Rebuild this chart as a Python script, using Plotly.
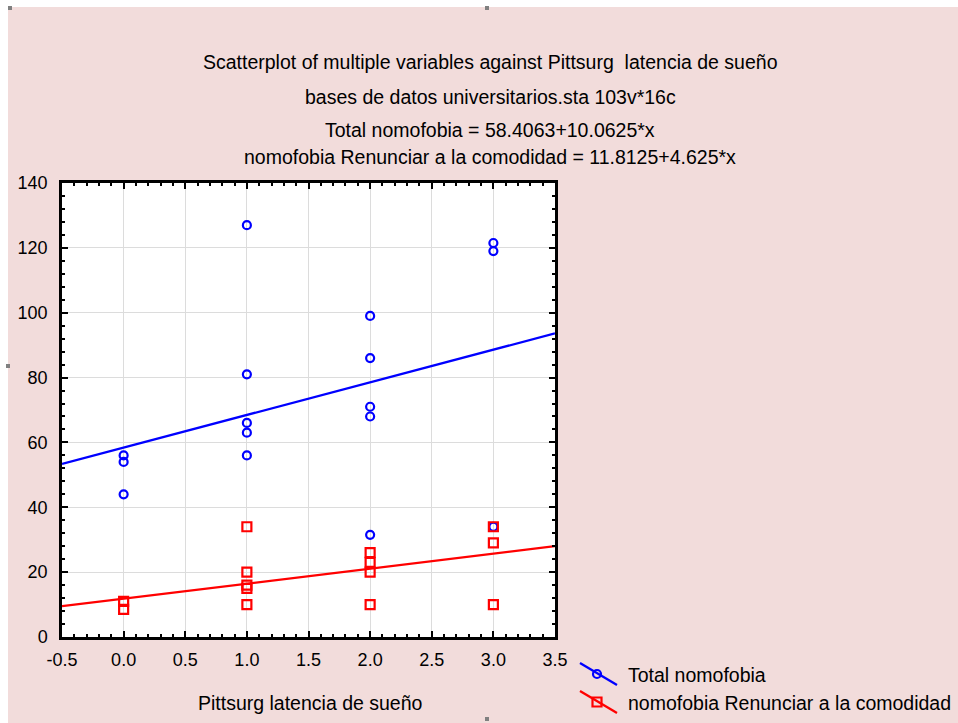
import plotly.graph_objects as go

# ---------------- data ----------------
total_x = [0, 0, 0, 1, 1, 1, 1, 1, 2, 2, 2, 2, 2, 3, 3, 3]
total_y = [56, 54, 44, 127, 81, 66, 63, 56, 99, 86, 71, 68, 31.5, 121.5, 119, 34]
renun_x = [0, 0, 1, 1, 1, 1, 1, 2, 2, 2, 2, 3, 3, 3]
renun_y = [11, 8.5, 34, 20, 16, 15, 10, 26, 23, 20, 10, 34, 29, 10]
series_names = ["Total nomofobia", "nomofobia Renunciar a la comodidad"]
fit_intercepts = [58.4063, 11.8125]
fit_slopes = [10.0625, 4.625]
fit_x_range = [-0.5, 3.5]
x_ticks = [-0.5, 0.0, 0.5, 1.0, 1.5, 2.0, 2.5, 3.0, 3.5]
y_ticks = [0, 20, 40, 60, 80, 100, 120, 140]
title_lines = [
    "Scatterplot of multiple variables against Pittsurg  latencia de sueño",
    "bases de datos universitarios.sta 103v*16c",
    "Total nomofobia = 58.4063+10.0625*x",
    "nomofobia Renunciar a la comodidad = 11.8125+4.625*x",
]
x_title = "Pittsurg latencia de sueño"

# ---------------- layout geometry (pixels) ----------------
W, H = 958, 723
L, R, T, B = 62, 555, 183, 637
BLUE, RED = "#0000FF", "#FF0000"
PINK = "#F2DCDB"
FONT = "Liberation Sans, Arial, sans-serif"
TXT = 19.5


def px(x):
    return (x - L) / (R - L)


def py(y):
    return (B - y) / (B - T)


fig = go.Figure()
colors = [BLUE, RED]
for i in range(2):
    xs = fit_x_range
    ys = [fit_intercepts[i] + fit_slopes[i] * v for v in xs]
    fig.add_trace(go.Scatter(x=xs, y=ys, mode="lines",
                             line=dict(color=colors[i], width=2.3),
                             showlegend=False, hoverinfo="skip"))

fig.add_trace(go.Scatter(x=total_x, y=total_y, mode="markers", name=series_names[0],
                         marker=dict(symbol="circle-open", size=8, color=BLUE,
                                     line=dict(width=2.2, color=BLUE)),
                         showlegend=False))
fig.add_trace(go.Scatter(x=renun_x, y=renun_y, mode="markers", name=series_names[1],
                         marker=dict(symbol="square-open", size=9, color=RED,
                                     line=dict(width=2.2, color=RED)),
                         showlegend=False))

axis_common = dict(
    showline=True, linecolor="black", linewidth=2.5, mirror="allticks",
    ticks="inside", ticklen=6, tickwidth=2, tickcolor="black",
    showgrid=True, gridcolor="#DCDCDC", gridwidth=1,
    zeroline=False, tickfont=dict(family=FONT, size=18, color="black"),
)

fig.update_xaxes(range=[-0.5, 3.5], tickmode="array", tickvals=x_ticks,
                 ticktext=[f"{v:.1f}" for v in x_ticks],
                 minor=dict(ticks="inside", ticklen=3, tickwidth=1.5, dtick=0.1,
                            tickcolor="black", showgrid=False),
                 ticklabelstandoff=5, **axis_common)
fig.update_yaxes(range=[0, 140], tickmode="array", tickvals=y_ticks,
                 minor=dict(ticks="inside", ticklen=3, tickwidth=1.5, dtick=4,
                            tickcolor="black", showgrid=False),
                 ticklabelstandoff=8, **axis_common)

annotations = []
title_y = [62, 97, 130, 157]
for txt, yy in zip(title_lines, title_y):
    annotations.append(dict(text=txt, x=px(490), y=py(yy), xref="paper", yref="paper",
                            showarrow=False, xanchor="center", yanchor="middle",
                            font=dict(family=FONT, size=TXT, color="black")))
annotations.append(dict(text=x_title, x=px(310), y=py(703), xref="paper", yref="paper",
                        showarrow=False, xanchor="center", yanchor="middle",
                        font=dict(family=FONT, size=TXT, color="black")))

shapes = []
# legend (diagonal line with marker)
leg = [(663, BLUE, "circle"), (691, RED, "square")]
for (y0, col, sym), name in zip(leg, series_names):
    shapes.append(dict(type="line", xref="paper", yref="paper",
                       x0=px(580), y0=py(y0), x1=px(617), y1=py(y0 + 22),
                       line=dict(color=col, width=2.3)))
    cx, cy = 597, y0 + 11
    if sym == "circle":
        shapes.append(dict(type="circle", xref="paper", yref="paper",
                           x0=px(cx - 4), x1=px(cx + 4), y0=py(cy - 4), y1=py(cy + 4),
                           line=dict(color=col, width=2.2)))
    else:
        shapes.append(dict(type="rect", xref="paper", yref="paper",
                           x0=px(cx - 4.5), x1=px(cx + 4.5), y0=py(cy - 4.5), y1=py(cy + 4.5),
                           line=dict(color=col, width=2.2)))
    annotations.append(dict(text=name, x=px(626), y=py(cy + 1), xref="paper", yref="paper",
                            showarrow=False, xanchor="left", yanchor="middle",
                            font=dict(family=FONT, size=TXT, color="black")))

# white strips at top and left, and grey resize handles
shapes.append(dict(type="rect", xref="paper", yref="paper", x0=px(0), x1=px(W), y0=py(0), y1=py(7),
                   fillcolor="white", line=dict(width=0), layer="above"))
shapes.append(dict(type="rect", xref="paper", yref="paper", x0=px(0), x1=px(8), y0=py(0), y1=py(H),
                   fillcolor="white", line=dict(width=0), layer="above"))
for hx, hy in [(10, 8), (487, 8), (8, 366), (487, 719)]:
    shapes.append(dict(type="rect", xref="paper", yref="paper",
                       x0=px(hx - 2), x1=px(hx + 2), y0=py(hy - 2), y1=py(hy + 2),
                       fillcolor="#808080", line=dict(width=0), layer="above"))

fig.update_layout(
    width=W, height=H,
    margin=dict(l=L, r=W - R, t=T, b=H - B),
    paper_bgcolor=PINK, plot_bgcolor="white",
    showlegend=False,
    annotations=annotations, shapes=shapes,
    font=dict(family=FONT, color="black"),
)

fig.write_html("out.html",
               config={"displayModeBar": False},
               post_script="document.body.style.margin='0';document.body.style.overflow='hidden';")
